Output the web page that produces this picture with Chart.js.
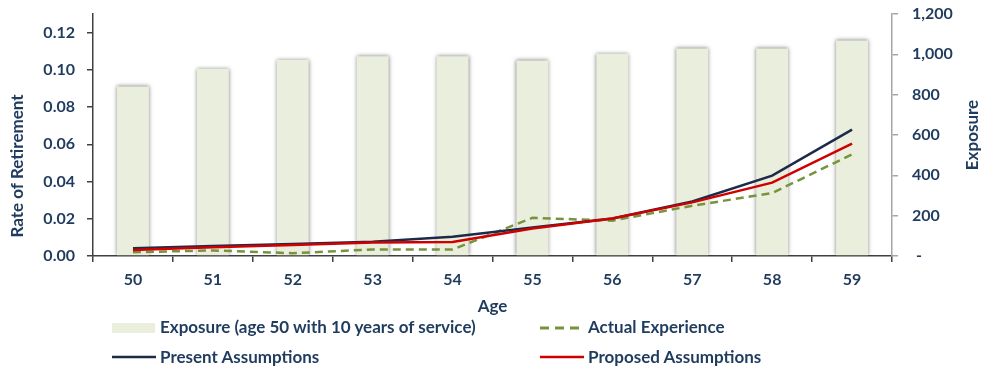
<!DOCTYPE html>
<html>
<head>
<meta charset="utf-8">
<script src="https://cdn.jsdelivr.net/npm/chart.js@4/dist/chart.umd.min.js"></script>
<style>
  body { margin: 0; background: #fff; }
  #wrap { position: relative; width: 983px; height: 369px; font-family: Lato, "Open Sans", sans-serif; }
  #wrap canvas { position: absolute; left: 0; top: 0; }
  .key { position: absolute; font: bold 17px Lato, sans-serif; color: #1f3b5e; line-height: 20px; white-space: nowrap; }
  .swatch { position: absolute; }
</style>
</head>
<body>
<div id="wrap">
  <canvas id="retirementChart" width="983" height="369"></canvas>

  <div class="swatch" style="left:112px; top:323px; width:43px; height:10px; background:#eaeedd;"></div>
  <div class="key" style="left:160px; top:317px;">Exposure (age 50 with 10 years of service)</div>

  <svg class="swatch" style="left:540px; top:324px;" width="44" height="8">
    <line x1="0" y1="4" x2="44" y2="4" stroke="#77933c" stroke-width="3" stroke-dasharray="9 6"></line>
  </svg>
  <div class="key" style="left:588px; top:317px;">Actual Experience</div>

  <svg class="swatch" style="left:112px; top:353px;" width="44" height="8">
    <line x1="0" y1="4" x2="44" y2="4" stroke="#1c2b48" stroke-width="2.5"></line>
  </svg>
  <div class="key" style="left:160px; top:347px;">Present Assumptions</div>

  <svg class="swatch" style="left:540px; top:353px;" width="44" height="8">
    <line x1="0" y1="4" x2="44" y2="4" stroke="#d00000" stroke-width="2.5"></line>
  </svg>
  <div class="key" style="left:588px; top:347px;">Proposed Assumptions</div>
</div>

<script>
const ages = ["50", "51", "52", "53", "54", "55", "56", "57", "58", "59"];
const exposure = [841, 928, 973, 990, 990, 970, 1003, 1029, 1029, 1069];
const actualExperience = [0.002, 0.003, 0.0015, 0.0035, 0.0035, 0.0205, 0.019, 0.027, 0.0338, 0.0546];
const presentAssumptions = [0.0042, 0.0054, 0.0065, 0.0077, 0.0104, 0.0153, 0.0201, 0.0293, 0.0432, 0.0679];
const proposedAssumptions = [0.0032, 0.0047, 0.0059, 0.0072, 0.0075, 0.0148, 0.0201, 0.0288, 0.0394, 0.0604];

const textColour = "#1f3b5e";
const tickFont = { family: "Lato", size: 16, weight: "bold" };

// soft grey shadow round the exposure columns
const barShadow = {
  id: "barShadow",
  beforeDatasetDraw(chart, args) {
    if (chart.data.datasets[args.index].type !== "bar") return;
    const ctx = chart.ctx;
    ctx.save();
    ctx.shadowColor = "rgba(0, 0, 0, 0.5)";
    ctx.shadowBlur = 4;
  },
  afterDatasetDraw(chart, args) {
    if (chart.data.datasets[args.index].type !== "bar") return;
    chart.ctx.restore();
  },
};

// both vertical axis titles read bottom to top
const sideTitles = {
  id: "sideTitles",
  afterDraw(chart) {
    const ctx = chart.ctx;
    ctx.save();
    ctx.font = "bold 17px Lato";
    ctx.fillStyle = textColour;
    ctx.textAlign = "center";
    ctx.textBaseline = "middle";

    ctx.save();
    ctx.translate(18, 166);
    ctx.rotate(-Math.PI / 2);
    ctx.fillText("Rate of Retirement", 0, 0);
    ctx.restore();

    ctx.translate(973, 135);
    ctx.rotate(-Math.PI / 2);
    ctx.fillText("Exposure", 0, 0);
    ctx.restore();
  },
};

// fixed width for the value axes, no extra room kept for the end labels
const fixWidth = (width) => (scale) => {
  scale.width = width;
  scale.paddingTop = 0;
  scale.paddingBottom = 0;
};

const ctx = document.querySelector("#retirementChart").getContext("2d");

const retirementChart = new Chart(ctx, {
  data: {
    labels: ages,
    datasets: [
      {
        type: "line",
        label: "Proposed Assumptions",
        data: proposedAssumptions,
        borderColor: "#d00000",
        borderWidth: 2.5,
        pointRadius: 0,
        tension: 0,
        yAxisID: "y",
        order: 0,
      },
      {
        type: "line",
        label: "Present Assumptions",
        data: presentAssumptions,
        borderColor: "#1c2b48",
        borderWidth: 2.5,
        pointRadius: 0,
        tension: 0,
        yAxisID: "y",
        order: 1,
      },
      {
        type: "line",
        label: "Actual Experience",
        data: actualExperience,
        borderColor: "#77933c",
        borderWidth: 2.5,
        borderDash: [8, 5],
        pointRadius: 0,
        tension: 0,
        yAxisID: "y",
        order: 2,
      },
      {
        type: "bar",
        label: "Exposure (age 50 with 10 years of service)",
        data: exposure,
        backgroundColor: "#eaeedd",
        borderWidth: 0,
        barPercentage: 0.4,
        categoryPercentage: 1,
        yAxisID: "y1",
        order: 3,
      },
    ],
  },
  options: {
    responsive: false,
    animation: false,
    layout: { padding: { top: 14, left: 0, right: 0, bottom: 0 } },
    plugins: {
      legend: { display: false },
      tooltip: { enabled: false },
    },
    scales: {
      x: {
        offset: true,
        afterFit: (scale) => { scale.height = 113; },
        border: { color: "#404040", width: 1.5 },
        grid: { offset: true, drawOnChartArea: false, tickLength: 6, color: "#404040", lineWidth: 1.5 },
        ticks: { color: textColour, font: tickFont, padding: 8 },
        title: {
          display: true,
          text: "Age",
          color: textColour,
          font: { family: "Lato", size: 17, weight: "bold" },
          padding: { top: 4, bottom: 52 },
        },
      },
      y: {
        position: "left",
        min: 0,
        max: 0.13,
        afterFit: fixWidth(93),
        afterBuildTicks: (scale) => {
          scale.ticks = scale.ticks.filter((t) => t.value <= 0.1201);
        },
        border: { color: "#404040", width: 1.5 },
        grid: { drawOnChartArea: false, tickLength: 6, color: "#404040", lineWidth: 1.5 },
        ticks: {
          stepSize: 0.02,
          color: textColour,
          font: tickFont,
          padding: 12,
          callback: (value) => value.toFixed(2),
        },
      },
      y1: {
        position: "right",
        min: 0,
        max: 1200,
        afterFit: fixWidth(91),
        border: { color: "#a6a6a6", width: 1.5 },
        grid: { drawOnChartArea: false, tickLength: 6, color: "#a6a6a6", lineWidth: 1.5 },
        ticks: {
          stepSize: 200,
          color: textColour,
          font: tickFont,
          padding: 14,
          callback: (value) => (value === 0 ? " -" : value.toLocaleString("en-US")),
        },
      },
    },
  },
  plugins: [barShadow, sideTitles],
});
</script>
</body>
</html>
